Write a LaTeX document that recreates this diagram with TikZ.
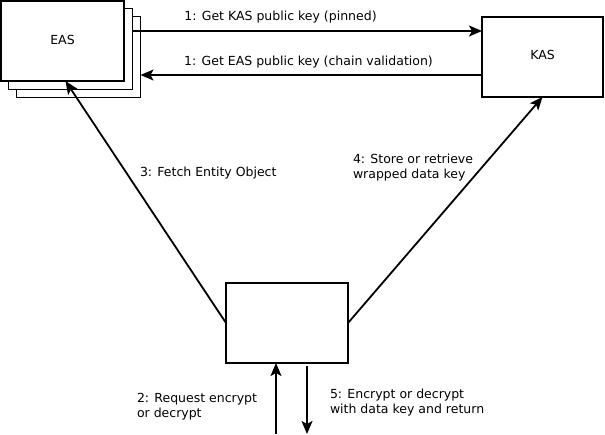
\documentclass[tikz,border=0pt]{standalone}
\usepackage{fontspec}
\setmainfont{DejaVu Sans}
\usetikzlibrary{arrows.meta}
\begin{document}
\begin{tikzpicture}[x=1pt,y=-1pt,
  every node/.style={font=\fontsize{12.5}{15}\selectfont},
  box/.style={draw, line width=1.8pt, fill=white, inner sep=0, outer sep=0, anchor=north west},
  backbox/.style={draw, line width=1.1pt, fill=white, inner sep=0, outer sep=0, anchor=north west},
  conn/.style={line width=1.8pt, -{Stealth[length=13pt,width=11pt,inset=3pt]}},
  lbl/.style={inner sep=0, outer sep=0}]
\useasboundingbox (0,0) rectangle (605,434);
% EAS stack
\node[backbox, minimum width=124pt, minimum height=81pt] (eas3) at (16.5,16.5) {};
\node[backbox, minimum width=124pt, minimum height=81pt] (eas2) at (8.5,8.5) {};
\node[box, minimum width=123pt, minimum height=80pt] (eas) at (1,1) {\raisebox{3pt}{EAS}};
% KAS
\node[box, minimum width=121pt, minimum height=80pt] (kas) at (482,17) {\raisebox{5pt}{KAS}};
% client box
\node[box, minimum width=122pt, minimum height=80pt] (cli) at (226,283) {};
% connectors
\draw[conn] (eas2.east |- 0,31) -- (kas.west |- 0,31);
\draw[conn] (kas.west |- 0,75) -- (eas3.east |- 0,75);
\draw[conn] (cli.west) -- ([xshift=3pt]eas.south);
\draw[conn] (cli.east) -- (kas.south);
\coordinate (inp) at (276,434);
\draw[conn] (inp) -- (inp |- cli.south);
\coordinate (outs) at (307,366);
\coordinate (outp) at (307,434);
\draw[conn] (outs) -- (outp);
% labels
\node[lbl, anchor=base] (l1) at (280.5,20) {1: Get KAS public key (pinned)};
\node[lbl, anchor=base] (l2) at (308.5,65) {1: Get EAS public key (chain validation)};
\node[lbl, anchor=base west] (l3) at (140,176) {3: Fetch Entity Object};
\node[lbl, anchor=north west, align=left] (l4) at (353,154) {4: Store or retrieve\\wrapped data key};
\node[lbl, anchor=north west, align=left] (l2b) at (137,393) {2: Request encrypt\\or decrypt};
\node[lbl, anchor=north west, align=left] (l5) at (330,389) {5: Encrypt or decrypt\\with data key and return};
\end{tikzpicture}
\end{document}
